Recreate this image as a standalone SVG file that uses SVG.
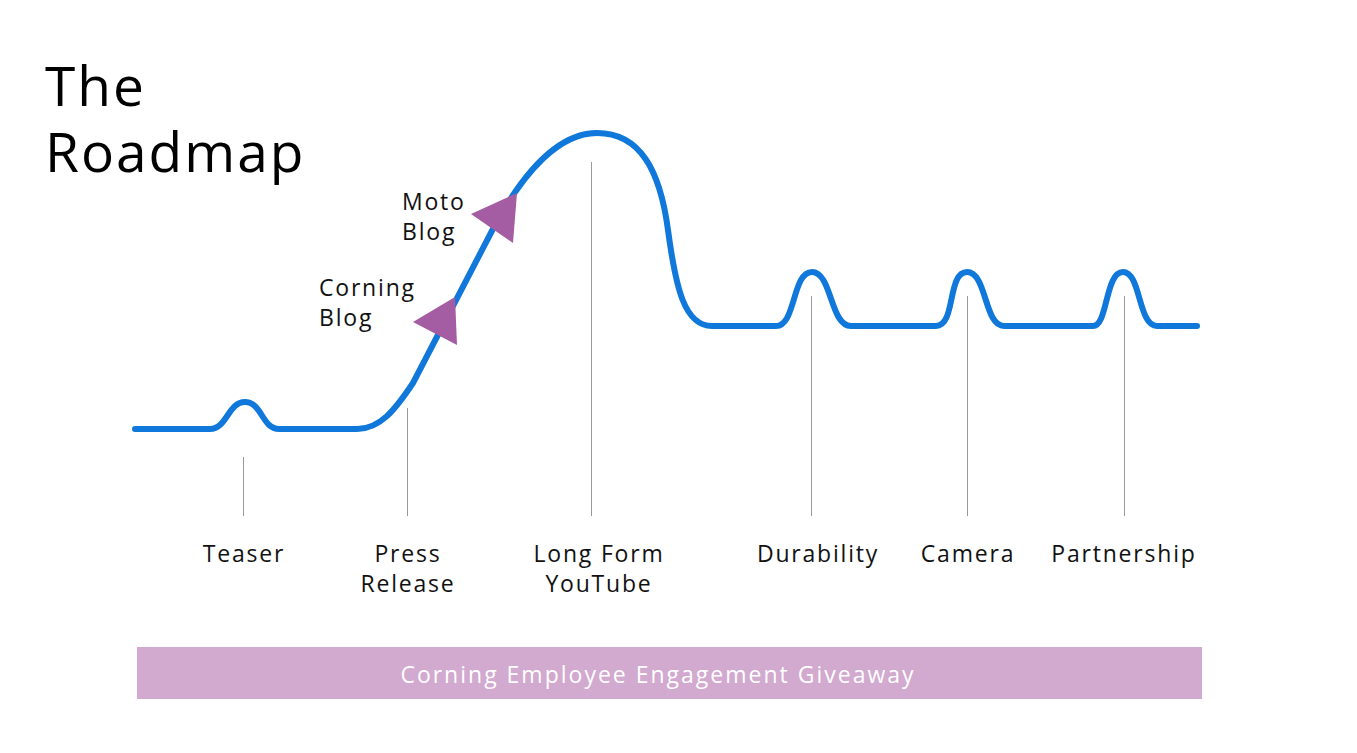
<svg xmlns="http://www.w3.org/2000/svg" width="1357" height="753" viewBox="0 0 1357 753">
<style>
.lbl{font-family:"Open Sans","Liberation Sans",sans-serif;font-size:23px;fill:#111;letter-spacing:1.8px}
.title{font-family:"Open Sans","Liberation Sans",sans-serif;font-size:55px;fill:#000;letter-spacing:2px}
.tick{stroke:#9a9a9a;stroke-width:1}
.tri{fill:#A45CA2}
</style>
<rect width="1357" height="753" fill="#fff"/>
<g id="title"><text class="title" x="45" y="106">The</text><text class="title" x="45" y="172">Roadmap</text></g>
<g id="connectors">
<line class="tick" x1="243.5" y1="457" x2="243.5" y2="516"/>
<line class="tick" x1="407.5" y1="408" x2="407.5" y2="516"/>
<line class="tick" x1="591.5" y1="162" x2="591.5" y2="516"/>
<line class="tick" x1="811.5" y1="296" x2="811.5" y2="516"/>
<line class="tick" x1="967.5" y1="296" x2="967.5" y2="516"/>
<line class="tick" x1="1124.5" y1="296" x2="1124.5" y2="516" stroke="#cfcfcf"/>
<path d="M135,429 L210,429 C227,429 228,402 245,402 C262,402 262,429 279,429 L357,429 C380,429 395,410 413,383 L495,225 C525,170 560,133 597,133 C640,133 660,170 668,230 C676,290 685,326 712,326 L776,326 C796,326 792,272 812,272 C832,272 830,326 851,326 L936,326 C956,326 947,272 967,272 C987,272 984,326 1004,326 L1093,326 C1108,326 1105,272 1123,272 C1141,272 1138,326 1157,326 L1197,326" fill="none" stroke="#0F78DA" stroke-width="6" stroke-linecap="round" stroke-linejoin="round"/>
</g>
<g id="corning-blog"><polygon class="tri" points="413,322 455,297 457,345"/><text class="lbl" x="319" y="296">Corning</text><text class="lbl" x="319" y="326">Blog</text></g>
<g id="moto-blog"><polygon class="tri" points="471,214 517,193 513,243"/><text class="lbl" x="402" y="210">Moto</text><text class="lbl" x="402" y="240">Blog</text></g>
<g id="teaser"><text class="lbl" x="244" y="562" text-anchor="middle">Teaser</text></g>
<g id="press-release"><text class="lbl" x="408" y="562" text-anchor="middle">Press</text><text class="lbl" x="408" y="592" text-anchor="middle">Release</text></g>
<g id="long-form"><text class="lbl" x="599" y="562" text-anchor="middle">Long Form</text><text class="lbl" x="599" y="592" text-anchor="middle">YouTube</text></g>
<g id="durability"><text class="lbl" x="818" y="562" text-anchor="middle">Durability</text></g>
<g id="camera"><text class="lbl" x="968" y="562" text-anchor="middle">Camera</text></g>
<g id="partnership"><text class="lbl" x="1124" y="562" text-anchor="middle">Partnership</text></g>
<g id="giveaway"><rect x="137" y="647" width="1065" height="52" fill="#D2A9CF"/><text x="658" y="683" text-anchor="middle" style="font-family:'Open Sans','Liberation Sans',sans-serif;font-size:23px;fill:#fff;letter-spacing:2px">Corning Employee Engagement Giveaway</text></g>
</svg>
